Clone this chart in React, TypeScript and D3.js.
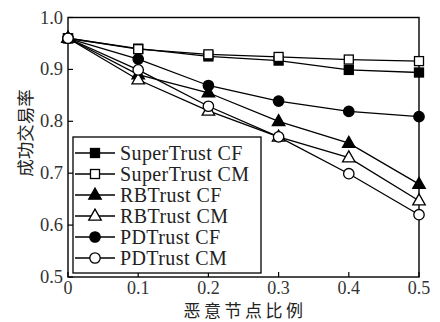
import React from "react";
import * as d3 from "d3";

const xValues = [0, 0.1, 0.2, 0.3, 0.4, 0.5];
const superTrustCF = [0.96, 0.94, 0.925, 0.917, 0.899, 0.894];
const superTrustCM = [0.96, 0.939, 0.929, 0.924, 0.919, 0.916];
const rbTrustCF = [0.96, 0.89, 0.855, 0.8, 0.758, 0.679];
const rbTrustCM = [0.96, 0.88, 0.82, 0.77, 0.73, 0.647];
const pdTrustCF = [0.96, 0.92, 0.869, 0.839, 0.819, 0.809];
const pdTrustCM = [0.96, 0.899, 0.829, 0.77, 0.699, 0.62];
const seriesNames = ["SuperTrust CF", "SuperTrust CM", "RBTrust CF", "RBTrust CM", "PDTrust CF", "PDTrust CM"];
const seriesShapes = ["square", "square", "triangle", "triangle", "circle", "circle"];
const seriesFilled = [true, false, true, false, true, false];
const yTicks = [0.5, 0.6, 0.7, 0.8, 0.9, 1.0];
const xTicks = [0, 0.1, 0.2, 0.3, 0.4, 0.5];
const xLabel = "恶意节点比例";
const yLabel = "成功交易率";

const seriesValues = [superTrustCF, superTrustCM, rbTrustCF, rbTrustCM, pdTrustCF, pdTrustCM];

const L = 68, R = 419, T = 17.5, B = 277;
const serif = "'Liberation Serif', 'DejaVu Serif', serif";
const cjk = "'Noto Sans CJK SC', sans-serif";

function Marker({ shape, filled, x, y }: { shape: string; filled: boolean; x: number; y: number }) {
  const fill = filled ? "#000" : "#fff";
  const common = { fill, stroke: "#000", strokeWidth: 1.3 };
  if (shape === "square") {
    const s = 9;
    return <rect x={x - s / 2} y={y - s / 2} width={s} height={s} {...common} />;
  }
  if (shape === "circle") {
    return <circle cx={x} cy={y} r={5.2} {...common} />;
  }
  const w = 12.5, h = 11;
  const p = `M${x},${y - h * 0.62} L${x + w / 2},${y + h * 0.38} L${x - w / 2},${y + h * 0.38} Z`;
  return <path d={p} {...common} />;
}

export default function App() {
  const x = d3.scaleLinear().domain([0, 0.5]).range([L, R]);
  const y = d3.scaleLinear().domain([0.5, 1.0]).range([B, T]);
  const line = d3
    .line<number>()
    .x((_, i) => x(xValues[i]))
    .y((d) => y(d));

  const legX = 73, legY = 137, legW = 188, legH = 136;
  const rowH = 21;

  return (
    <svg width={440} height={322} style={{ position: "absolute", left: 0, top: 0, background: "#fff" }}>
      <rect x={0} y={0} width={440} height={322} fill="#fff" />
      {/* frame */}
      <rect x={L} y={T} width={R - L} height={B - T} fill="none" stroke="#000" strokeWidth={1.4} />
      {/* y ticks */}
      {yTicks.map((t) => (
        <g key={"y" + t}>
          <line x1={L} x2={L + 5} y1={y(t)} y2={y(t)} stroke="#000" strokeWidth={1.2} />
          <text x={63} y={y(t) + 6} textAnchor="end" fontFamily={serif} fontSize={18.5} fill="#333">
            {t.toFixed(1)}
          </text>
        </g>
      ))}
      {/* x ticks */}
      {xTicks.map((t) => (
        <g key={"x" + t}>
          <line x1={x(t)} x2={x(t)} y1={B} y2={B - 5} stroke="#000" strokeWidth={1.2} />
          <text x={x(t)} y={294} textAnchor="middle" fontFamily={serif} fontSize={18} fill="#333">
            {t === 0 ? "0" : t.toFixed(1)}
          </text>
        </g>
      ))}
      {/* series */}
      {seriesValues.map((vals, si) => (
        <g key={"s" + si}>
          <path d={line(vals) || ""} fill="none" stroke="#000" strokeWidth={1.3} />
          {vals.map((v, i) => (
            <Marker key={i} shape={seriesShapes[si]} filled={seriesFilled[si]} x={x(xValues[i])} y={y(v)} />
          ))}
        </g>
      ))}
      {/* legend */}
      <rect x={legX} y={legY} width={legW} height={legH} fill="#fff" stroke="#000" strokeWidth={1.3} />
      {seriesNames.map((name, i) => {
        const cy = legY + 16 + i * rowH;
        return (
          <g key={"l" + i}>
            <line x1={75} x2={115} y1={cy} y2={cy} stroke="#000" strokeWidth={1.3} />
            <Marker shape={seriesShapes[i]} filled={seriesFilled[i]} x={95} y={cy} />
            <text x={120} y={cy + 7} fontFamily={serif} fontSize={20} letterSpacing={0.4} fill="#222">
              {name}
            </text>
          </g>
        );
      })}
      {/* axis labels */}
      <text x={245} y={317} textAnchor="middle" fontFamily={cjk} fontSize={17} letterSpacing={3.5} fill="#222">
        {xLabel}
      </text>
      <text
        transform={`translate(32,133) rotate(-90)`}
        textAnchor="middle"
        fontFamily={cjk}
        fontSize={17.5}
        fill="#222"
      >
        {yLabel}
      </text>
    </svg>
  );
}
